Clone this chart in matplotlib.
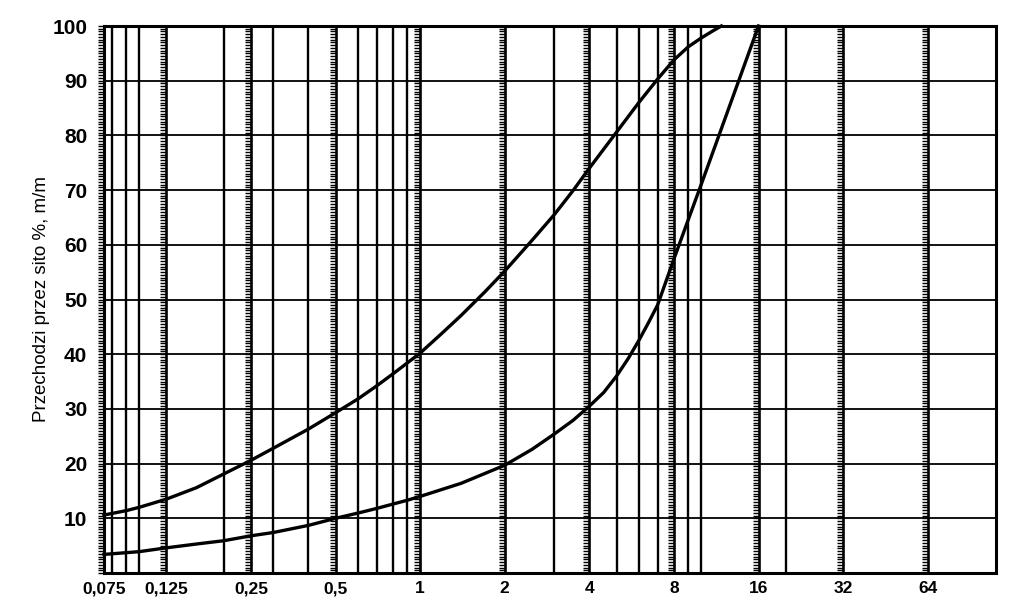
import matplotlib
matplotlib.use("Agg")
import matplotlib.pyplot as plt
import numpy as np

# Sieve grid lines (mm)
labeled_sieves = [0.075, 0.125, 0.25, 0.5, 1, 2, 4, 8, 16, 32, 64]
tick_labels = ["0,075", "0,125", "0,25", "0,5", "1", "2", "4", "8", "16", "32", "64"]
extra_lines = [0.08, 0.09, 0.1, 0.2, 0.3, 0.4, 0.6, 0.7, 0.8, 0.9,
               3, 5, 6, 7, 9, 10, 20]
y_ticks = [10, 20, 30, 40, 50, 60, 70, 80, 90, 100]

# Upper boundary curve
upper_x = [0.075, 0.09, 0.1, 0.125, 0.16, 0.2, 0.25, 0.3, 0.4, 0.5, 0.6, 0.7, 0.8,
           0.9, 1.0, 1.2, 1.4, 1.7, 2.0, 2.5, 3.0, 3.5, 4.0, 5.0, 6.0, 7.0, 8.0,
           9.0, 10.0, 11.0, 11.8]
upper_y = [10.6, 11.4, 12.0, 13.5, 15.6, 18.1, 20.6, 22.8, 26.3, 29.3, 31.8, 34.2,
           36.4, 38.4, 40.2, 43.9, 47.1, 51.4, 55.2, 60.8, 65.5, 69.9, 74.0, 80.6,
           86.0, 90.3, 93.8, 96.2, 97.8, 99.1, 100.0]

# Lower boundary curve
lower_x = [0.075, 0.1, 0.125, 0.16, 0.2, 0.25, 0.3, 0.4, 0.5, 0.6, 0.7, 0.8, 0.9,
           1.0, 1.4, 2.0, 2.5, 3.0, 3.5, 4.0, 4.5, 5.0, 5.5, 6.0, 6.5, 7.0, 8.0,
           9.0, 10.0, 16.0]
lower_y = [3.4, 3.9, 4.6, 5.3, 5.9, 6.8, 7.4, 8.7, 10.0, 10.95, 11.8, 12.6, 13.3,
           14.0, 16.4, 19.7, 22.6, 25.4, 27.9, 30.5, 33.0, 36.0, 39.2, 42.5, 45.8,
           49.0, 57.4, 64.6, 71.0, 100.0]

plt.rcParams['font.family'] = ['Liberation Sans', 'DejaVu Sans']

fig = plt.figure(figsize=(10.24, 6.12), dpi=100)
ax = fig.add_axes([104/1024, 1 - 573/612, (996-104)/1024, (573-26)/612])
ax.set_xscale('log')
ax.set_xlim(0.075, 112)
ax.set_ylim(0, 100)

# horizontal grid
for yv in y_ticks:
    ax.axhline(yv, color='black', lw=1.3, zorder=1)
# vertical lines
for xv in extra_lines:
    ax.axvline(xv, color='black', lw=1.7, zorder=1)
for xv in labeled_sieves:
    ax.axvline(xv, color='black', lw=1.9, zorder=1)

# hatch ticks on labeled sieve lines
hy = np.arange(0, 100.01, 0.5)
for xv in labeled_sieves:
    ax.plot([xv]*len(hy), hy, linestyle='none', marker=0, markersize=4,
            markeredgewidth=1.0, color='black', zorder=2, clip_on=False)

ax.plot(upper_x, upper_y, color='black', lw=2.4, zorder=3, clip_on=False,
        solid_joinstyle='round')
ax.plot(lower_x, lower_y, color='black', lw=2.4, zorder=3, clip_on=False,
        solid_joinstyle='round')

ax.set_xticks(labeled_sieves)
ax.set_xticklabels(tick_labels, fontsize=12.5, fontweight='bold')
ax.xaxis.set_minor_locator(matplotlib.ticker.NullLocator())
ax.set_yticks(y_ticks)
ax.set_yticklabels([str(v) for v in y_ticks], fontsize=15, fontweight='bold')
ax.tick_params(axis='both', length=0)
ax.tick_params(axis='y', pad=12)
ax.tick_params(axis='x', pad=6)

for s in ax.spines.values():
    s.set_linewidth(2.2)

ax.set_ylabel("Przechodzi przez sito %, m/m", fontsize=13.5, labelpad=2)

fig.savefig("out.png", dpi=100, facecolor='white')
